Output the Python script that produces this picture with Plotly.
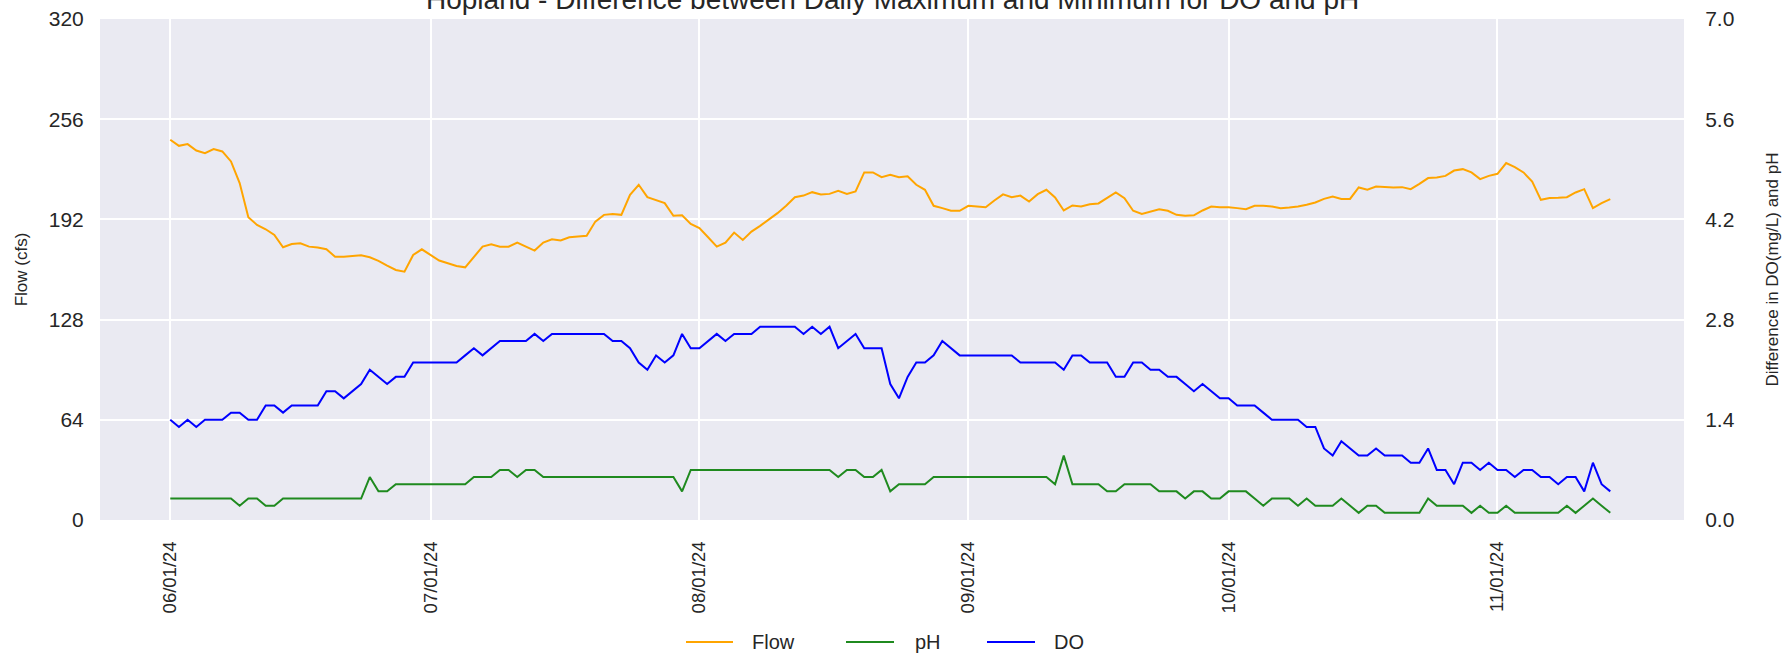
import pandas as pd
import plotly.graph_objects as go
from plotly.subplots import make_subplots

# ---------------- data ----------------
start_date = "2024-06-01"

flow_cfs = [
    242.9, 239.0, 240.1, 236.0, 234.3, 236.9, 235.4, 229.0, 215.2, 193.4,
    188.5, 185.7, 182.1, 174.2, 176.3, 176.8, 174.6, 174.0, 172.9, 168.2,
    168.2, 168.7, 169.1, 167.8, 165.5, 162.5, 159.7, 158.6, 169.3, 172.9,
    169.3, 165.7, 164.0, 162.3, 161.4, 168.2, 174.6, 176.1, 174.6, 174.6,
    177.2, 174.6, 172.1, 177.2, 179.3, 178.5, 180.6, 181.1, 181.5, 190.6,
    194.9, 195.5, 194.9, 207.7, 214.1, 206.2, 204.1, 202.4, 194.3, 194.6,
    189.1, 186.4, 180.6, 174.6, 177.2, 183.6, 178.9, 184.2, 187.9, 191.7,
    196.0, 200.7, 206.2, 207.2, 209.4, 207.9, 208.3, 210.2, 208.3, 209.9,
    222.0, 222.0, 219.0, 220.5, 219.0, 219.5, 214.1, 210.9, 200.7, 199.2,
    197.5, 197.5, 200.7, 200.2, 199.8, 204.1, 208.0, 206.1, 207.2, 203.4,
    208.1, 210.9, 206.0, 197.7, 200.9, 200.2, 201.7, 202.2, 205.6, 209.2,
    205.6, 197.5, 195.5, 197.0, 198.5, 197.5, 194.9, 194.3, 194.6, 197.7,
    200.2, 199.8, 199.8, 199.2, 198.5, 200.7, 200.7, 200.2, 199.2, 199.6,
    200.2, 201.3, 202.8, 205.1, 206.6, 205.1, 205.1, 212.4, 210.9, 213.0,
    212.6, 212.4, 212.6, 211.3, 214.7, 218.4, 218.8, 219.8, 223.2, 224.1,
    222.0, 217.7, 219.8, 221.1, 228.0, 225.4, 222.0, 216.2, 204.5, 205.6,
    205.8, 206.2, 209.2, 211.3, 199.2, 202.4, 205.0,
]

ph_diff = [
    0.3, 0.3, 0.3, 0.3, 0.3, 0.3, 0.3, 0.3, 0.2, 0.3,
    0.3, 0.2, 0.2, 0.3, 0.3, 0.3, 0.3, 0.3, 0.3, 0.3,
    0.3, 0.3, 0.3, 0.6, 0.4, 0.4, 0.5, 0.5, 0.5, 0.5,
    0.5, 0.5, 0.5, 0.5, 0.5, 0.6, 0.6, 0.6, 0.7, 0.7,
    0.6, 0.7, 0.7, 0.6, 0.6, 0.6, 0.6, 0.6, 0.6, 0.6,
    0.6, 0.6, 0.6, 0.6, 0.6, 0.6, 0.6, 0.6, 0.6, 0.4,
    0.7, 0.7, 0.7, 0.7, 0.7, 0.7, 0.7, 0.7, 0.7, 0.7,
    0.7, 0.7, 0.7, 0.7, 0.7, 0.7, 0.7, 0.6, 0.7, 0.7,
    0.6, 0.6, 0.7, 0.4, 0.5, 0.5, 0.5, 0.5, 0.6, 0.6,
    0.6, 0.6, 0.6, 0.6, 0.6, 0.6, 0.6, 0.6, 0.6, 0.6,
    0.6, 0.6, 0.5, 0.9, 0.5, 0.5, 0.5, 0.5, 0.4, 0.4,
    0.5, 0.5, 0.5, 0.5, 0.4, 0.4, 0.4, 0.3, 0.4, 0.4,
    0.3, 0.3, 0.4, 0.4, 0.4, 0.3, 0.2, 0.3, 0.3, 0.3,
    0.2, 0.3, 0.2, 0.2, 0.2, 0.3, 0.2, 0.1, 0.2, 0.2,
    0.1, 0.1, 0.1, 0.1, 0.1, 0.3, 0.2, 0.2, 0.2, 0.2,
    0.1, 0.2, 0.1, 0.1, 0.2, 0.1, 0.1, 0.1, 0.1, 0.1,
    0.1, 0.2, 0.1, 0.2, 0.3, 0.2, 0.1,
]

do_diff = [
    1.4, 1.3, 1.4, 1.3, 1.4, 1.4, 1.4, 1.5, 1.5, 1.4,
    1.4, 1.6, 1.6, 1.5, 1.6, 1.6, 1.6, 1.6, 1.8, 1.8,
    1.7, 1.8, 1.9, 2.1, 2.0, 1.9, 2.0, 2.0, 2.2, 2.2,
    2.2, 2.2, 2.2, 2.2, 2.3, 2.4, 2.3, 2.4, 2.5, 2.5,
    2.5, 2.5, 2.6, 2.5, 2.6, 2.6, 2.6, 2.6, 2.6, 2.6,
    2.6, 2.5, 2.5, 2.4, 2.2, 2.1, 2.3, 2.2, 2.3, 2.6,
    2.4, 2.4, 2.5, 2.6, 2.5, 2.6, 2.6, 2.6, 2.7, 2.7,
    2.7, 2.7, 2.7, 2.6, 2.7, 2.6, 2.7, 2.4, 2.5, 2.6,
    2.4, 2.4, 2.4, 1.9, 1.7, 2.0, 2.2, 2.2, 2.3, 2.5,
    2.4, 2.3, 2.3, 2.3, 2.3, 2.3, 2.3, 2.3, 2.2, 2.2,
    2.2, 2.2, 2.2, 2.1, 2.3, 2.3, 2.2, 2.2, 2.2, 2.0,
    2.0, 2.2, 2.2, 2.1, 2.1, 2.0, 2.0, 1.9, 1.8, 1.9,
    1.8, 1.7, 1.7, 1.6, 1.6, 1.6, 1.5, 1.4, 1.4, 1.4,
    1.4, 1.3, 1.3, 1.0, 0.9, 1.1, 1.0, 0.9, 0.9, 1.0,
    0.9, 0.9, 0.9, 0.8, 0.8, 1.0, 0.7, 0.7, 0.5, 0.8,
    0.8, 0.7, 0.8, 0.7, 0.7, 0.6, 0.7, 0.7, 0.6, 0.6,
    0.5, 0.6, 0.6, 0.4, 0.8, 0.5, 0.4,
]

series_names = ["Flow", "pH", "DO"]
series_colors = ["orange", "#1f8a1f", "blue"]

month_ticks = ["2024-06-01", "2024-07-01", "2024-08-01", "2024-09-01", "2024-10-01", "2024-11-01"]
month_labels = ["06/01/24", "07/01/24", "08/01/24", "09/01/24", "10/01/24", "11/01/24"]
flow_ticks = [0, 64, 128, 192, 256, 320]
diff_ticks = [0.0, 1.4, 2.8, 4.2, 5.6, 7.0]

dates = pd.date_range(start_date, periods=len(flow_cfs), freq="D")

# ---------------- figure ----------------
FONT = "Liberation Sans, Arial, Helvetica, sans-serif"
TXT = "#262626"
W, H = 1791, 658
ML, MR, MT, MB = 100, 107, 19, 138
PW, PH = W - ML - MR, H - MT - MB

fig = make_subplots(specs=[[{"secondary_y": True}]])

fig.add_trace(go.Scatter(x=dates, y=flow_cfs, name=series_names[0], mode="lines",
                         line=dict(color=series_colors[0], width=2)), secondary_y=False)
fig.add_trace(go.Scatter(x=dates, y=ph_diff, name=series_names[1], mode="lines",
                         line=dict(color=series_colors[1], width=2)), secondary_y=True)
fig.add_trace(go.Scatter(x=dates, y=do_diff, name=series_names[2], mode="lines",
                         line=dict(color=series_colors[2], width=2)), secondary_y=True)

x_lo = dates[0] - pd.Timedelta(days=8.1)
x_hi = dates[-1] + pd.Timedelta(days=8.5)

clear = "rgba(0,0,0,0)"
fig.update_xaxes(
    type="date", range=[x_lo, x_hi], automargin=False, domain=[0, 1],
    tickvals=month_ticks, ticktext=month_labels, tickangle=-90,
    tickfont=dict(family=FONT, size=18.5, color=TXT),
    showgrid=True, gridcolor="white", gridwidth=1.6,
    zeroline=False, showline=False, ticks="outside", ticklen=13, tickcolor=clear,
)
fig.update_yaxes(
    range=[0, 320], tickvals=flow_ticks, automargin=False, ticklabeloverflow="allow",
    tickfont=dict(family=FONT, size=21, color=TXT),
    title=dict(text="Flow (cfs)", font=dict(family=FONT, size=17, color=TXT), standoff=16),
    showgrid=True, gridcolor="white", gridwidth=1.6,
    zeroline=False, showline=False, ticks="outside", ticklen=11, tickcolor=clear,
    secondary_y=False,
)
fig.update_yaxes(
    range=[0, 7], tickvals=diff_ticks, tickformat=".1f", automargin=False, ticklabeloverflow="allow",
    tickfont=dict(family=FONT, size=21, color=TXT),
    title=dict(text="Difference in DO(mg/L) and pH", font=dict(family=FONT, size=17, color=TXT), standoff=32),
    showgrid=False, zeroline=False, showline=False, ticks="outside", ticklen=16, tickcolor=clear,
    secondary_y=True,
)

fig.add_annotation(
    text="Hopland - Difference between Daily Maximum and Minimum for DO and pH",
    xref="paper", yref="paper", x=0.5, y=1, xanchor="center", yanchor="bottom",
    yshift=2, showarrow=False, font=dict(family=FONT, size=28, color=TXT),
)

# legend drawn below the plot (line sample + label per series), figure pixels
legend_y_px = 642
legend_line_px = [(686, 733), (846, 894), (987, 1035)]
legend_text_px = [750, 913, 1052]
ly = (H - MB - legend_y_px) / PH
for name, color, (x0p, x1p), txp in zip(series_names, series_colors, legend_line_px, legend_text_px):
    fig.add_shape(type="line", xref="paper", yref="paper",
                  x0=(x0p - ML) / PW, x1=(x1p - ML) / PW, y0=ly, y1=ly,
                  line=dict(color=color, width=2))
    fig.add_annotation(text=name, xref="paper", yref="paper", x=(txp - ML) / PW, y=ly,
                       xanchor="left", yanchor="middle", showarrow=False,
                       font=dict(family=FONT, size=20, color=TXT))

fig.update_layout(
    width=W, height=H,
    margin=dict(l=ML, r=MR, t=MT, b=MB, autoexpand=False),
    paper_bgcolor="white", plot_bgcolor="#EAEAF2",
    font=dict(family=FONT, color=TXT),
    showlegend=False,
)

fig.write_html("out.html",
               config={"displayModeBar": False},
               post_script="document.body.style.margin='0';document.body.style.overflow='hidden';")
